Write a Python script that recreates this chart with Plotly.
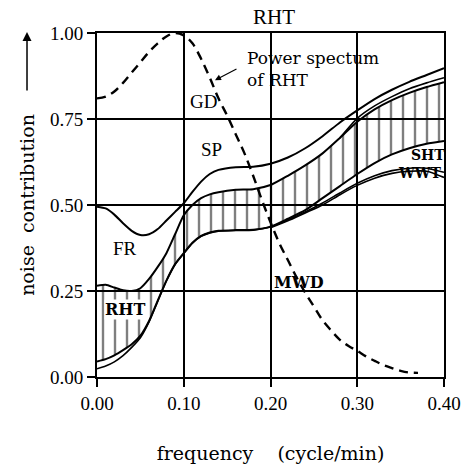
import plotly.graph_objects as go

# ---------------- data ----------------
freq = [0.00, 0.01, 0.02, 0.03, 0.04, 0.05, 0.06, 0.07, 0.08, 0.09, 0.10, 0.11, 0.12, 0.13,
        0.14, 0.16, 0.18, 0.20, 0.22, 0.24, 0.26, 0.28, 0.30, 0.32, 0.34, 0.36, 0.38, 0.40]

fr_sp_top = [0.495, 0.490, 0.472, 0.447, 0.425, 0.413, 0.415, 0.430, 0.455, 0.480, 0.505, 0.538,
             0.568, 0.590, 0.602, 0.610, 0.611, 0.620, 0.638, 0.665, 0.700, 0.740, 0.775, 0.808,
             0.835, 0.858, 0.878, 0.898]

band_upper = [0.265, 0.268, 0.260, 0.252, 0.250, 0.258, 0.285, 0.320, 0.360, 0.415, 0.470, 0.500,
              0.520, 0.531, 0.537, 0.544, 0.546, 0.558, 0.585, 0.615, 0.650, 0.695, 0.742, 0.778,
              0.805, 0.826, 0.843, 0.857]

band_lower = [0.045, 0.052, 0.063, 0.078, 0.095, 0.120, 0.163, 0.222, 0.280, 0.328, 0.360, 0.390,
              0.410, 0.420, 0.425, 0.427, 0.428, 0.437, 0.460, 0.485, 0.520, 0.555, 0.590, 0.622,
              0.647, 0.665, 0.678, 0.686]

sht = [0.024, 0.032, 0.044, 0.062, 0.086, 0.114, 0.160, 0.220, 0.279, 0.327, 0.359, 0.389,
       0.409, 0.419, 0.424, 0.426, 0.427, 0.436, 0.457, 0.480, 0.506, 0.535, 0.563, 0.585,
       0.600, 0.607, 0.607, 0.595]

wwt_freq = [0.20, 0.22, 0.24, 0.26, 0.28, 0.30, 0.32, 0.34, 0.36, 0.38, 0.40]
wwt = [0.434, 0.454, 0.477, 0.500, 0.530, 0.557, 0.578, 0.592, 0.598, 0.598, 0.580]

gd_freq = [0.28, 0.30, 0.32, 0.34, 0.36, 0.38, 0.40]
gd = [0.695, 0.752, 0.788, 0.815, 0.838, 0.855, 0.870]

spec_freq = [0.00, 0.01, 0.02, 0.03, 0.04, 0.05, 0.06, 0.07, 0.08, 0.09, 0.10, 0.11, 0.12, 0.13,
             0.14, 0.15, 0.16, 0.17, 0.18, 0.19, 0.20, 0.21, 0.22, 0.23, 0.24, 0.25, 0.26, 0.27,
             0.28, 0.29, 0.30, 0.31, 0.32, 0.33, 0.34, 0.35, 0.36, 0.37]
power_spectrum = [0.810, 0.815, 0.830, 0.855, 0.885, 0.915, 0.945, 0.970, 0.990, 1.000, 0.993,
                  0.970, 0.925, 0.870, 0.810, 0.760, 0.705, 0.650, 0.585, 0.515, 0.450, 0.390,
                  0.340, 0.290, 0.245, 0.205, 0.165, 0.135, 0.108, 0.090, 0.076, 0.060, 0.047,
                  0.035, 0.026, 0.018, 0.013, 0.012]

x_ticks = [0.0, 0.1, 0.2, 0.3, 0.4]
x_ticklabels = ["0.00", "0.10", "0.20", "0.30", "0.40"]
y_ticks = [0.0, 0.25, 0.5, 0.75, 1.0]
y_ticklabels = ["0.00", "0.25", "0.50", "0.75", "1.00"]

# ---------------- figure ----------------
SERIF = "Liberation Serif"
WIDE = "DejaVu Serif"
line_style = dict(color="black", width=2, shape="spline", smoothing=0.6)
thin_style = dict(color="black", width=1.6, shape="spline", smoothing=0.6)

fig = go.Figure()

# hatched band
fig.add_trace(go.Scatter(x=freq, y=band_upper, mode="lines", line=line_style,
                         name="band upper", showlegend=False, hoverinfo="skip"))
fig.add_trace(go.Scatter(x=freq, y=band_lower, mode="lines", line=line_style,
                         fill="tonexty", fillcolor="rgba(0,0,0,0)",
                         fillpattern=dict(shape="|", fgcolor="black", bgcolor="rgba(0,0,0,0)",
                                          size=12, solidity=0.2),
                         name="band lower", showlegend=False, hoverinfo="skip"))

fig.add_trace(go.Scatter(x=freq, y=fr_sp_top, mode="lines", line=line_style,
                         name="FR / SP", showlegend=False))
fig.add_trace(go.Scatter(x=gd_freq, y=gd, mode="lines", line=thin_style, name="GD", showlegend=False))
fig.add_trace(go.Scatter(x=freq, y=sht, mode="lines", line=thin_style, name="SHT", showlegend=False))
fig.add_trace(go.Scatter(x=wwt_freq, y=wwt, mode="lines", line=thin_style, name="WWT", showlegend=False))
fig.add_trace(go.Scatter(x=spec_freq, y=power_spectrum, mode="lines",
                         line=dict(color="black", width=2.4, dash="9px,6px", shape="spline"),
                         name="Power spectum of RHT", showlegend=False))

axis_common = dict(showline=True, linecolor="black", linewidth=2, mirror=True,
                   showgrid=True, gridcolor="black", gridwidth=1.5, zeroline=False,
                   ticks="outside", ticklen=8, tickwidth=1.5, tickcolor="black",
                   tickfont=dict(family=SERIF, size=19, color="black"), automargin=False)

fig.update_xaxes(range=[0, 0.40], tickvals=x_ticks, ticktext=x_ticklabels,
                 title=dict(text="frequency&nbsp;&nbsp;&nbsp;&nbsp;(cycle/min)",
                            font=dict(family=WIDE, size=19, color="black"), standoff=37),
                 **axis_common)
fig.update_yaxes(range=[0, 1.0], tickvals=y_ticks, ticktext=y_ticklabels,
                 title=dict(text="noise&nbsp;&nbsp;contribution",
                            font=dict(family=WIDE, size=19, color="black"), standoff=10),
                 **axis_common)

ann = []
# title
ann.append(dict(text="RHT", xref="paper", yref="paper", x=0.51, y=1.047, yanchor="middle",
                showarrow=False, font=dict(family=SERIF, size=21, color="black")))
# y-axis arrow
ann.append(dict(text="", xref="paper", yref="paper", x=-0.2017, y=1.003, ax=0, ay=60,
                showarrow=True, arrowhead=2, arrowsize=1.2, arrowwidth=1.5, arrowcolor="black"))
# curve labels
for txt, x, y in [("GD", 0.123, 0.80), ("SP", 0.1325, 0.66), ("FR", 0.032, 0.375)]:
    ann.append(dict(text=txt, x=x, y=y, showarrow=False, font=dict(family=SERIF, size=19, color="black")))
for txt, x, y, size in [("RHT", 0.032, 0.195, 16), ("MWD", 0.233, 0.276, 16),
                        ("SHT", 0.381, 0.645, 14), ("WWT", 0.372, 0.593, 14)]:
    ann.append(dict(text="<b>%s</b>" % txt, x=x, y=y, showarrow=False,
                    bgcolor="white" if txt == "RHT" else None, borderpad=0,
                    font=dict(family=WIDE, size=size, color="black")))
ann.append(dict(text="Power spectum<br>of RHT", x=0.1706, y=0.895, xanchor="left", yanchor="middle",
                align="left", showarrow=False, font=dict(family=WIDE, size=17, color="black")))
ann.append(dict(text="", x=0.136, y=0.863, ax=23, ay=-12, showarrow=True, arrowhead=2,
                arrowsize=1, arrowwidth=1.2, arrowcolor="black"))

fig.update_layout(width=467, height=464, margin=dict(l=97, r=23, t=33, b=87),
                  paper_bgcolor="white", plot_bgcolor="white", showlegend=False,
                  annotations=ann)

fig.write_html("out.html")
